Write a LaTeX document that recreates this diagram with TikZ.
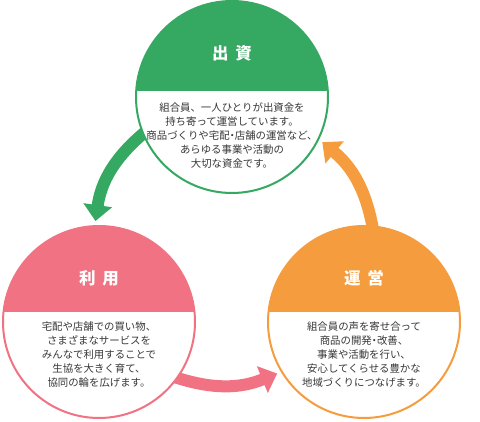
\documentclass[tikz,border=0pt]{standalone}
\usepackage{fontspec}
\setmainfont{Noto Sans CJK JP}
\newfontfamily\paltfont[RawFeature=+palt]{Noto Sans CJK JP}
\newcommand{\nakadot}{{\paltfont ・}}
\usetikzlibrary{arrows.meta,calc}
\definecolor{cgreen}{RGB}{53,168,98}
\definecolor{cpink}{RGB}{240,114,131}
\definecolor{corange}{RGB}{245,157,62}
\definecolor{ctext}{RGB}{55,55,55}
\tikzset{
  bubble/.style 2 args={circle, minimum size=192pt, inner sep=0pt, outer sep=0pt,
    draw=#1, line width=2pt, fill=white,
    path picture={\fill[#1] (path picture bounding box.north west) rectangle ($(path picture bounding box.east)+(0,#2)$);}},
  title/.style={text=white, font=\fontsize{16.5pt}{18pt}\selectfont\bfseries},
  body/.style={text=ctext, align=center, font=\fontsize{10.4pt}{14pt}\selectfont},
  cyc/.style={line width=12pt, -{Triangle[length=16pt,width=28pt]}, draw=#1},
}
\begin{document}
\begin{tikzpicture}[x=1pt,y=1pt]
\useasboundingbox (0,0) rectangle (480,422);
\coordinate (Tc) at (232,325);
\coordinate (Lc) at (99,100);
\coordinate (Rc) at (364,100);
\coordinate (gtip) at ($(Lc)+(92:101pt)$);
\coordinate (ptip) at ($(Rc)+(210.7:101pt)$);
\coordinate (otip) at ($(Tc)+(333.4:101pt)$);
\coordinate (gstart) at ($(Tc)+(202:94pt)$);
\coordinate (pstart) at ($(Lc)+(324:94pt)$);
\coordinate (ostart) at ($(Rc)+(84.6:94pt)$);
% arrows
\draw[cyc=cgreen] (gstart) to[bend right=21] (gtip);
\draw[cyc=cpink] (pstart) to[bend right=20] (ptip);
\draw[cyc=corange] (ostart) to[bend right=20] (otip);
% circles
\node[bubble={cgreen}{6pt}] (top) at (Tc) {};
\node[bubble={cpink}{10pt}] (left) at (Lc) {};
\node[bubble={corange}{10pt}] (right) at (Rc) {};
% titles
\node[title] (ttop) at (232,369) {出\hspace{7pt}資};
\node[title] (tleft) at (99,144) {利\hspace{7pt}用};
\node[title] (tright) at (364,144) {運\hspace{7pt}営};
% texts
\node[body] (btop) at (232,286) {組合員、一人ひとりが出資金を\\持ち寄って運営しています。\\商品づくりや宅配\nakadot 店舗の運営など、\\あらゆる事業や活動の\\大切な資金です。};
\node[body] (bleft) at (99,67) {宅配や店舗での買い物、\\さまざまなサービスを\\みんなで利用することで\\生協を大きく育て、\\協同の輪を広げます。};
\node[body] (bright) at (364,67) {組合員の声を寄せ合って\\商品の開発\nakadot 改善、\\事業や活動を行い、\\安心してくらせる豊かな\\地域づくりにつなげます。};
\end{tikzpicture}
\end{document}
